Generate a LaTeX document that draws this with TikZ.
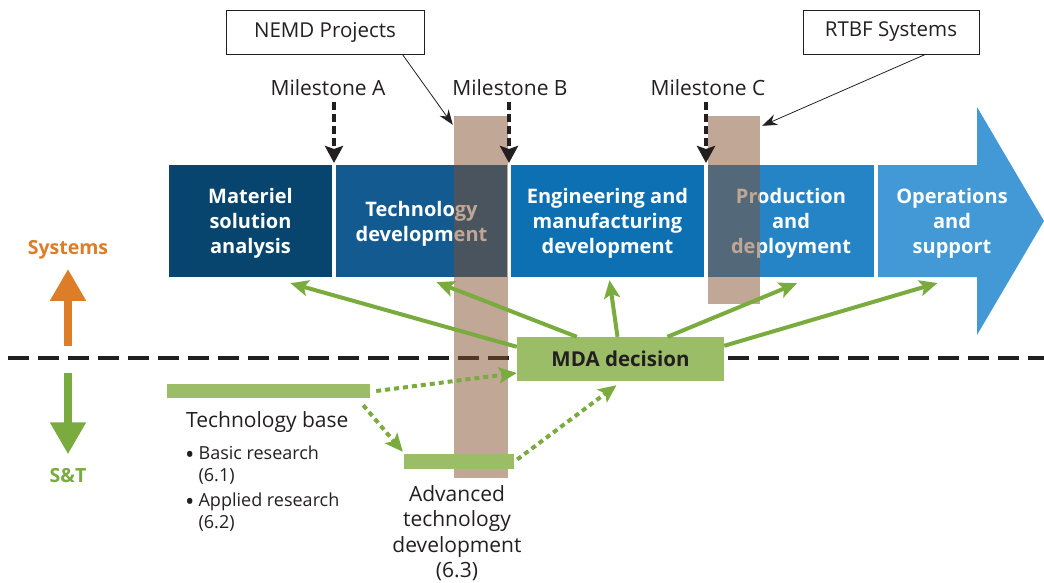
\documentclass[tikz,border=0pt]{standalone}
\usepackage{fontspec}
\setmainfont{Open Sans}
\usetikzlibrary{arrows.meta}

\definecolor{inkdark}{RGB}{35,31,32}
\definecolor{msaBlue}{RGB}{8,69,110}
\definecolor{tdBlue}{RGB}{19,90,145}
\definecolor{emdBlue}{RGB}{13,112,178}
\definecolor{pdBlue}{RGB}{36,132,198}
\definecolor{osBlue}{RGB}{66,153,213}
\definecolor{barBrown}{RGB}{130,80,45}
\definecolor{arrowGreen}{RGB}{122,171,62}
\definecolor{barGreen}{RGB}{155,189,103}
\definecolor{sysOrange}{RGB}{221,125,40}

% list bullet, a bit heavier than the text
\newcommand\listdot{\raisebox{-3.5pt}[0pt][0pt]{\fontsize{25}{22}\selectfont•}}

\begin{document}
\begin{tikzpicture}[x=1pt,y=-1pt,
    phase/.style={fill=#1,text=white,font=\bfseries\fontsize{20}{25}\selectfont,
      align=center,inner sep=0pt,minimum height=112pt,text depth=-3pt},
    label/.style={text=inkdark,font=\fontsize{21}{24}\selectfont,inner sep=0pt},
    callout/.style={draw=inkdark,line width=0.8pt,text=inkdark,
      font=\fontsize{20.5}{24}\selectfont,minimum width=#1,minimum height=44pt},
    window/.style={fill=barBrown,fill opacity=0.5,inner sep=0pt},
    greenbar/.style={fill=barGreen,inner sep=0pt},
    pointer/.style={-{Stealth[length=15pt,width=11pt]},line width=0.8pt,draw=inkdark},
    milestone/.style={-{Stealth[length=17pt,width=18pt,inset=3pt]},line width=4pt,
      dash pattern=on 8pt off 4pt,draw=inkdark},
    feed/.style={-{Stealth[length=18pt,width=16pt,inset=4pt]},line width=4pt,draw=arrowGreen},
    feeddot/.style={feed,dash pattern=on 5pt off 4pt},
    divider/.style={line width=4pt,dash pattern=on 21pt off 9pt,draw=inkdark},
    bigarrow/.style={-{Triangle[length=32pt,width=34pt]},line width=8pt}]

  \useasboundingbox (0,0) rectangle (1044,583);

  % systems / S&T divider
  \draw[divider] (8,358) -- (1044,358);

  % acquisition phases
  \node[phase=msaBlue,minimum width=163pt] (msa) at (250.5,221) {Materiel\\solution\\analysis};
  \node[phase=tdBlue,minimum width=171pt] (td) at (421.5,221) {Technology\\development};
  \node[phase=emdBlue,minimum width=193pt] (emd) at (607.5,221) {Engineering and\\manufacturing\\development};
  \node[phase=pdBlue,minimum width=166pt] (pd) at (791,221) {Production\\and\\deployment};
  \fill[osBlue] (878,165) -- (977,165) -- (977,107) -- (1044,221) -- (977,335)
    -- (977,277) -- (878,277) -- cycle;
  \coordinate (os) at (927.5,277);
  \node[text=white,font=\bfseries\fontsize{20}{25}\selectfont,align=center] at (952,223)
    {Operations\\and\\support};

  % NEMD and RTBF windows
  \node[window,minimum width=54pt,minimum height=362pt] (nemdbar) at (481,297) {};
  \node[window,minimum width=52pt,minimum height=188pt] (rtbfbar) at (734,210) {};

  \node[callout=198pt] (nemd) at (325,32) {NEMD Projects};
  \node[callout=176pt] (rtbf) at (891,32) {RTBF Systems};
  \draw[pointer] ([xshift=-22pt]nemd.south east) -- ([xshift=-1pt,yshift=-9pt]nemdbar.north west);
  \draw[pointer] ([xshift=-54pt]rtbf.south east) -- ([xshift=2pt,yshift=-10pt]rtbfbar.north east);

  % milestones
  \node[label] (msA) at (328,88) {Milestone A};
  \node[label] (msB) at (510,88) {Milestone B};
  \node[label] (msC) at (708,88) {Milestone C};
  \coordinate (mA) at (334,163);
  \coordinate (mB) at (509,163);
  \coordinate (mC) at (706,163);
  \draw[milestone] (msA.south -| mA) ++(0,6) -- (mA);
  \draw[milestone] (msB.south -| mB) ++(0,6) -- (mB);
  \draw[milestone] (msC.south -| mC) ++(0,6) -- (mC);

  % side arrows
  \node[text=sysOrange,font=\bfseries\fontsize{19.5}{20}\selectfont] (sys) at (68,250) {Systems};
  \node[text=arrowGreen,font=\bfseries\fontsize{19.5}{20}\selectfont] (st) at (68,476) {S\&T};
  \draw[bigarrow,sysOrange] (68,346) -- ([yshift=-6pt]sys.south);
  \draw[bigarrow,arrowGreen] (68,373) -- ([yshift=11pt]st.north);

  % MDA and its links to the phases
  \node[greenbar,minimum width=207pt,minimum height=44pt,text=inkdark,
    font=\bfseries\fontsize{20.5}{24}\selectfont] (mda) at (620.5,359) {MDA decision};
  \draw[feed] ([yshift=-10pt]mda.north west) -- ([xshift=40pt,yshift=-6pt]msa.south);
  \draw[feed] ([xshift=60pt]mda.north west) -- ([xshift=15pt,yshift=-5pt]td.south);
  \draw[feed] ([xshift=-3pt]mda.north) -- ([xshift=2pt,yshift=-3pt]emd.south);
  \draw[feed] ([xshift=47pt]mda.north) -- ([xshift=6pt,yshift=-6pt]pd.south);
  \draw[feed] ([yshift=-9pt]mda.north east) -- ([xshift=10pt,yshift=-6pt]os);

  % science and technology
  \node[greenbar,minimum width=203pt,minimum height=14pt] (tb) at (268.5,391) {};
  \node[greenbar,minimum width=110pt,minimum height=15pt] (atd) at (459,461.5) {};
  \node[label,anchor=west,font=\fontsize{21}{24}\selectfont] (tbtext) at (186,422) {Technology base};
  \node[label,anchor=north west,align=left,font=\fontsize{18}{22}\selectfont] (tblist) at (185,446)
    {\listdot\hspace{4pt}Basic research\\\phantom{\listdot}\hspace{4pt}(6.1)\\[3pt]
     \listdot\hspace{4pt}Applied research\\\phantom{\listdot}\hspace{4pt}(6.2)};
  \node[label,anchor=north,align=center,font=\fontsize{21}{25.5}\selectfont] (atdtext) at (457,485)
    {Advanced\\technology\\development\\(6.3)};
  \draw[feeddot] ([xshift=6pt]tb.east) -- ([yshift=-14pt]mda.west);
  \draw[feeddot] ([xshift=-7pt,yshift=-7pt]tb.south east) -- ([xshift=-1pt,yshift=2pt]atd.north west);
  \draw[feeddot] ([xshift=3pt,yshift=2pt]atd.east) -- ([xshift=-4pt,yshift=-4pt]mda.south);
\end{tikzpicture}
\end{document}
